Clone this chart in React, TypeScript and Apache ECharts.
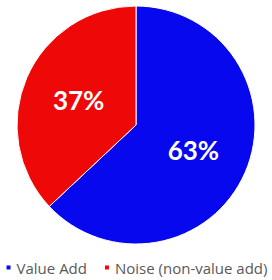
import React, { useEffect, useRef } from "react";
import * as echarts from "echarts";

const categories = ["Value Add", "Noise (non-value add)"];
const values = [63, 37];
const colors = ["#0808ee", "#ee0808"];

export default function App() {
  const ref = useRef<HTMLDivElement>(null);
  useEffect(() => {
    document.body.style.margin = "0";
    const chart = echarts.init(ref.current!, null, { renderer: "svg" });
    chart.setOption({
      animation: false,
      backgroundColor: "#ffffff",
      color: colors,
      legend: {
        data: categories,
        bottom: 0,
        left: "center",
        padding: [5, 0],
        icon: "rect",
        itemWidth: 6,
        itemHeight: 6,
        itemGap: 16,
        textStyle: { fontFamily: "Open Sans", fontSize: 15, color: "#595959" },
      },
      series: [
        {
          type: "pie",
          center: [136, 125],
          radius: [0, 119],
          startAngle: 90,
          clockwise: true,
          data: categories.map((n, i) => ({ name: n, value: values[i] })),
          itemStyle: { borderColor: "#ffffff", borderWidth: 1 },
          label: {
            show: true,
            position: "inside",
            formatter: "{c}%",
            color: "#ffffff",
            fontFamily: "Lato",
            fontWeight: "bold",
            fontSize: 26,
          },
          labelLine: { show: false },
        },
      ],
    });
    return () => chart.dispose();
  }, []);
  return <div ref={ref} style={{ width: 272, height: 280 }} />;
}
